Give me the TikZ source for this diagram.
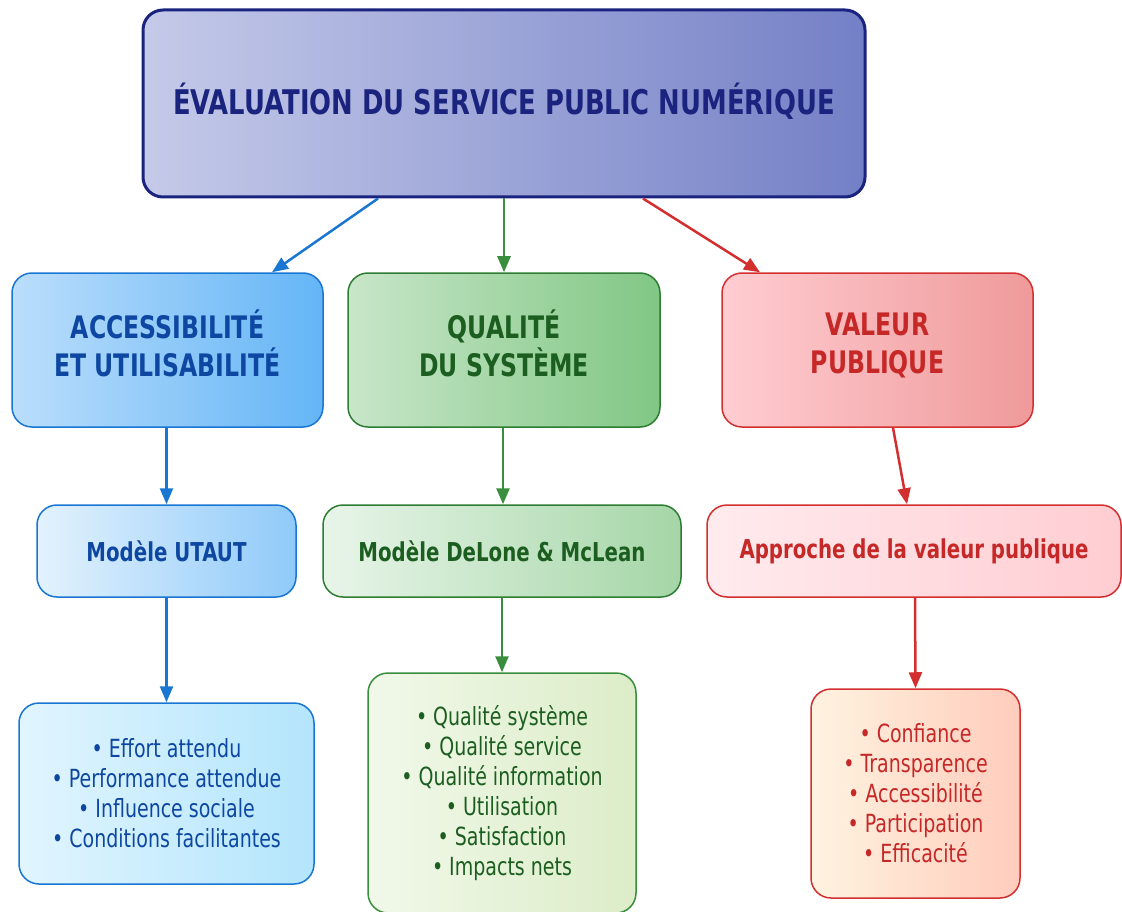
\documentclass[tikz,border=0pt]{standalone}
\usepackage{fontspec}
\setmainfont{DejaVu Sans}[FakeStretch=0.76]
\usetikzlibrary{arrows.meta}

% palette
\definecolor{navy}{HTML}{1A237E}
\definecolor{topL}{HTML}{C5CAE9}
\definecolor{topR}{HTML}{7480C6}
\definecolor{bDark}{HTML}{0D47A1}
\definecolor{bLine}{HTML}{1976D2}
\definecolor{gDark}{HTML}{1B5E20}
\definecolor{gLine}{HTML}{388E3C}
\definecolor{gEdge}{HTML}{2E7D32}
\definecolor{rDark}{HTML}{C62828}
\definecolor{rLine}{HTML}{D32F2F}
% fills, left and right ends of each gradient
\definecolor{bA1}{HTML}{BBDEFB}\definecolor{bA2}{HTML}{64B5F6}
\definecolor{gA1}{HTML}{C8E6C9}\definecolor{gA2}{HTML}{81C784}
\definecolor{rA1}{HTML}{FFCDD2}\definecolor{rA2}{HTML}{EF9A9A}
\definecolor{bB1}{HTML}{E3F2FD}\definecolor{bB2}{HTML}{90CAF9}
\definecolor{gB1}{HTML}{E8F5E9}\definecolor{gB2}{HTML}{A5D6A7}
\definecolor{rB1}{HTML}{FFEBEE}\definecolor{rB2}{HTML}{FFCDD2}
\definecolor{bC1}{HTML}{E1F5FE}\definecolor{bC2}{HTML}{B3E5FC}
\definecolor{gC1}{HTML}{F1F8E9}\definecolor{gC2}{HTML}{DCEDC8}
\definecolor{rC1}{HTML}{FFF3E0}\definecolor{rC2}{HTML}{FFCCBC}

\tikzset{
  box/.style={rectangle, rounded corners=20pt, inner sep=0pt, align=center, line width=1.5pt},
  headtxt/.style={font=\bfseries\fontsize{31}{38}\selectfont, text depth=14pt},
  modeltxt/.style={font=\bfseries\fontsize{26}{32}\selectfont},
  listtxt/.style={font=\fontsize{25}{30}\selectfont},
  link/.style={line width=2.5pt, -{Triangle[length=16pt,width=13pt]}},
}

\begin{document}
\begin{tikzpicture}[x=1pt,y=-1pt]
\useasboundingbox (0,0) rectangle (1122,912);

% root
\node[box, draw=navy, line width=3pt, left color=topL, right color=topR,
      minimum width=722pt, minimum height=187pt, text=navy, text depth=10pt,
      font=\bfseries\fontsize{34}{40}\selectfont]
  (top) at (504,103.5) {ÉVALUATION DU SERVICE PUBLIC NUMÉRIQUE};

% second level
\node[box, headtxt, draw=bLine, left color=bA1, right color=bA2,
      minimum width=311pt, minimum height=154pt, text=bDark]
  (acc) at (167.5,350) {ACCESSIBILITÉ\\ET UTILISABILITÉ};
\node[box, headtxt, draw=gEdge, left color=gA1, right color=gA2,
      minimum width=312pt, minimum height=154pt, text=gDark]
  (qual) at (504,350) {QUALITÉ\\DU SYSTÈME};
\node[box, headtxt, draw=rLine, left color=rA1, right color=rA2,
      minimum width=311pt, minimum height=154pt, text=rDark]
  (val) at (877.5,350) {VALEUR\\PUBLIQUE};

% models
\node[box, modeltxt, draw=bLine, left color=bB1, right color=bB2,
      minimum width=259pt, minimum height=92pt, text=bDark]
  (utaut) at (166.5,551) {Modèle UTAUT};
\node[box, modeltxt, draw=gEdge, left color=gB1, right color=gB2,
      minimum width=358pt, minimum height=92pt, text=gDark]
  (dm) at (502,551) {Modèle DeLone \& McLean};
\node[box, modeltxt, draw=rLine, left color=rB1, right color=rB2,
      minimum width=414pt, minimum height=92pt, text=rDark]
  (vp) at (914,551) {Approche de la valeur publique};

% criteria
\node[box, listtxt, draw=bLine, left color=bC1, right color=bC2,
      minimum width=295pt, minimum height=181pt, text=bDark]
  (ucrit) at (166.5,793.5)
  {• Effort attendu\\• Performance attendue\\• Influence sociale\\• Conditions facilitantes};
\node[box, listtxt, draw=gLine, left color=gC1, right color=gC2,
      minimum width=268pt, minimum height=240pt, text=gDark]
  (dcrit) at (502,793)
  {• Qualité système\\• Qualité service\\• Qualité information\\• Utilisation\\• Satisfaction\\• Impacts nets};
\node[box, listtxt, draw=rLine, left color=rC1, right color=rC2,
      minimum width=209pt, minimum height=209pt, text=rDark]
  (vcrit) at (915.5,793.5)
  {• Confiance\\• Transparence\\• Accessibilité\\• Participation\\• Efficacité};

% connectors
\draw[link, bLine] ([xshift=-126pt]top.south) -- ([xshift=104.5pt]acc.north);
\draw[link, gLine] (top.south) -- (qual.north);
\draw[link, rLine] ([xshift=139pt]top.south) -- ([xshift=-117.5pt]val.north);

\draw[link, bLine] ([xshift=-1pt]acc.south) -- (utaut.north);
\draw[link, gLine] ([xshift=-1pt]qual.south) -- ([xshift=1pt]dm.north);
\draw[link, rLine] ([xshift=15.5pt]val.south) -- ([xshift=-7pt]vp.north);

\draw[link, bLine] (utaut.south) -- (ucrit.north);
\draw[link, gLine] (dm.south) -- (dcrit.north);
\draw[link, rLine] ([xshift=1pt]vp.south) -- (vcrit.north);
\end{tikzpicture}
\end{document}
